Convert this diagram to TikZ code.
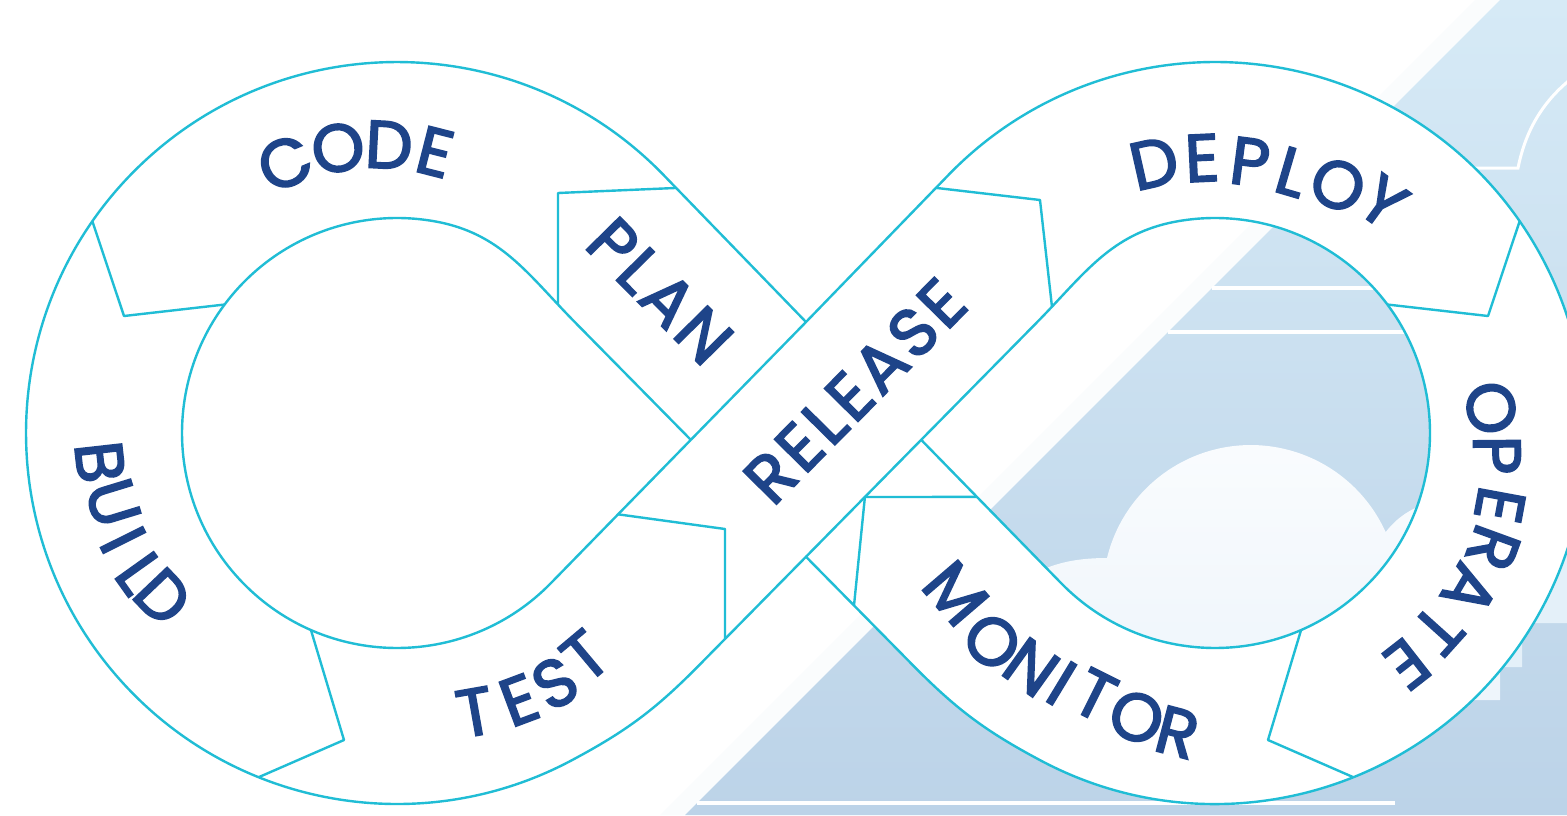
\documentclass[tikz,border=0pt]{standalone}
\usepackage{fontspec}
\newfontfamily\fA{Poppins}[LetterSpace=6,FakeBold=2.8]
\newfontfamily\fB{Poppins}[FakeBold=2.8]
\usetikzlibrary{calc}
\definecolor{cy}{RGB}{32,189,213}
\definecolor{txt}{RGB}{30,68,137}
\definecolor{bgtop}{RGB}{214,234,246}
\definecolor{bgbot}{RGB}{188,211,232}
\definecolor{cloudtop}{RGB}{250,252,254}
\definecolor{cloudbot}{RGB}{238,245,251}
\definecolor{lightreg}{RGB}{228,240,249}
\tikzset{
 edge/.style={draw=cy, line width=2.4pt, line join=round},
 lbl/.style={font=\fA\fontsize{67}{67}\selectfont, text=txt, inner sep=0pt},
 chr/.style={font=\fB\fontsize{67}{67}\selectfont, text=txt, inner sep=0pt},
 wline/.style={draw=white, line width=4.5pt},
}
\def\silpath{($(L)+(44.35:371)$) arc[start angle=44.35, end angle=298, radius=371] to[out=28,in=225.43] (700,-664.33) -- (806,-556.74) -- (912,-664.33) to[out=-45.43,in=152] ($(Rc)+(242:371)$) arc[start angle=242, end angle=495.65, radius=371] -- (806,-322) -- cycle}
\def\lholepath{(690.82,-439.83) -- ($(L)+(-44.35:215)$) arc[start angle=-44.35, end angle=-280, radius=215] to[out=-10, in=134.57] (575,-322.28) -- cycle}
\def\rholepath{(921.18,-439.83) -- ($(Rc)+(224.35:215)$) arc[start angle=224.35, end angle=460, radius=215] to[out=190, in=45.43] (1037,-322.28) -- cycle}
\begin{document}
\begin{tikzpicture}[x=1pt,y=1pt]
\useasboundingbox (0,0) rectangle (1567,-815);
\coordinate (L) at (397,-433);
\coordinate (Rc) at (1215,-433);
% background
\fill[white] (0,0) rectangle (1567,-815);
\shade[top color=bgtop, bottom color=bgbot] (1500,0) -- (1567,0) -- (1567,-815) -- (685,-815) -- cycle;
\fill[bgtop, opacity=0.12] (1475,0) -- (1500,0) -- (685,-815) -- (660,-815) -- cycle;
\fill[lightreg] (1440,-450) -- (1567,-450) -- (1567,-623) -- (1522,-623) -- (1522,-667) -- (1440,-667) -- cycle;
\draw[wline] (1212,-288) -- (1460,-288);
\draw[wline] (1168,-332) -- (1460,-332);
\draw[wline] (697,-803) -- (1395,-803);
\draw[white, line width=3pt] (1440,-168) -- (1518,-168) .. controls (1526,-128) and (1545,-97) .. (1580,-72);
\shade[top color=cloudtop, bottom color=cloudbot] (1000,-700) -- (1000,-600) .. controls (1030,-570) and (1060,-558) .. (1107,-558) arc[start angle=166.3, end angle=24.3, radius=148] .. controls (1398,-516) and (1415,-505) .. (1440,-500) .. controls (1470,-500) and (1490,-520) .. (1500,-540) -- (1500,-700) -- cycle;
% figure
\fill[white, even odd rule] \silpath \lholepath \rholepath;
% divider coordinates
\coordinate (d1i) at ($(L)+(143.3:215)$); \coordinate (d1e) at (124,-316); \coordinate (d1o) at ($(L)+(145.2:371)$);
\coordinate (d2i) at ($(L)+(246.4:215)$); \coordinate (d2e) at (344,-740); \coordinate (d2o) at ($(L)+(248.1:371)$);
\coordinate (d3a) at (618,-514.3); \coordinate (d3e) at (725,-529); \coordinate (d3b) at (725,-638.9);
\coordinate (d4a) at (558,-305); \coordinate (d4e) at (558,-193); \coordinate (d4b) at (675,-188);
\coordinate (d5a) at (937,-188); \coordinate (d5e) at (1040,-200); \coordinate (d5b) at (1052,-307);
\coordinate (d6i) at ($(Rc)+(36.7:215)$); \coordinate (d6e) at (1488,-316); \coordinate (d6o) at ($(Rc)+(34.8:371)$);
\coordinate (d7i) at ($(Rc)+(-66.4:215)$); \coordinate (d7e) at (1268,-740); \coordinate (d7o) at ($(Rc)+(-68.1:371)$);
\coordinate (d8a) at (977,-496.9); \coordinate (d8e) at (864.9,-497); \coordinate (d8b) at (854,-605.5);
\begin{scope}[even odd rule]
\clip \silpath \lholepath \rholepath;
\draw[edge] ($(d1e)!1.15!(d1i)$) -- (d1e) -- ($(d1e)!1.15!(d1o)$);
\draw[edge] ($(d2e)!1.15!(d2i)$) -- (d2e) -- ($(d2e)!1.15!(d2o)$);
\draw[edge] ($(d3e)!1.15!(d3a)$) -- (d3e) -- ($(d3e)!1.15!(d3b)$);
\draw[edge] ($(d4e)!1.15!(d4a)$) -- (d4e) -- ($(d4e)!1.15!(d4b)$);
\draw[edge] ($(d5e)!1.15!(d5a)$) -- (d5e) -- ($(d5e)!1.15!(d5b)$);
\draw[edge] ($(d6e)!1.15!(d6i)$) -- (d6e) -- ($(d6e)!1.15!(d6o)$);
\draw[edge] ($(d7e)!1.15!(d7i)$) -- (d7e) -- ($(d7e)!1.15!(d7o)$);
\draw[edge] ($(d8e)!1.15!(d8a)$) -- (d8e) -- ($(d8e)!1.15!(d8b)$);
\end{scope}
% outlines
\draw[edge] \silpath;
\draw[edge] \lholepath;
\draw[edge] \rholepath;
\draw[edge] (690.82,-439.83) -- (806,-322);
\draw[edge] (806,-556.74) -- (921.18,-439.83);
% curved labels, letter by letter
\foreach \x/\y/\r/\ch [count=\i] in {285/163/22.6/C, 338/148/9.3/O, 389/145/-3/D, 435/152/-14.3/E}
  \node[chr, rotate=\r] (code\i) at (\x,-\y) {\ch};
\foreach \x/\y/\r/\ch [count=\i] in {100/462/-83.6/B, 113/503/-73/U, 123/540/-63.5/I, 140/573/-54.5/L, 163/597/-46.4/D}
  \node[chr, rotate=\r] (build\i) at (\x,-\y) {\ch};
\foreach \x/\y/\r/\ch [count=\i] in {475/712/10/T, 519/700/20.5/E, 555/683/30.5/S, 585/656/40/T}
  \node[chr, rotate=\r] (test\i) at (\x,-\y) {\ch};
\foreach \x/\y/\r/\ch [count=\i] in {1154/163/12.7/D, 1202/158/2.7/E, 1250/162/-7.4/P, 1292/172/-16.4/L, 1338/185/-26.4/O, 1383/202/-36/Y}
  \node[chr, rotate=\r] (deploy\i) at (\x,-\y) {\ch};
\foreach \x/\y/\r/\ch [count=\i] in {1491/408/-79/O, 1497/455/-89.5/P, 1500/505/-100.5/E, 1493/548/-110/R, 1470/590/-120.5/A, 1438/630/-132/T, 1407/664/-142/E}
  \node[chr, rotate=\r] (operate\i) at (\x,-\y) {\ch};
\foreach \x/\y/\r/\ch [count=\i] in {955.7/593.3/-49.4/M, 992.3/641.7/-41.6/O, 1031.3/667.3/-35.65/N, 1061.7/683.3/-31.2/I, 1095/695/-26.6/T, 1136.7/717.3/-20.4/O, 1177.3/732.3/-14.75/R}
  \node[chr, rotate=\r] (monitor\i) at (\x,-\y) {\ch};
\node[lbl, rotate=-45.4] (plan) at (660,-291) {PLAN};
\node[lbl, rotate=45.4] (release) at (855,-391) {RELEASE};
\end{tikzpicture}
\end{document}
